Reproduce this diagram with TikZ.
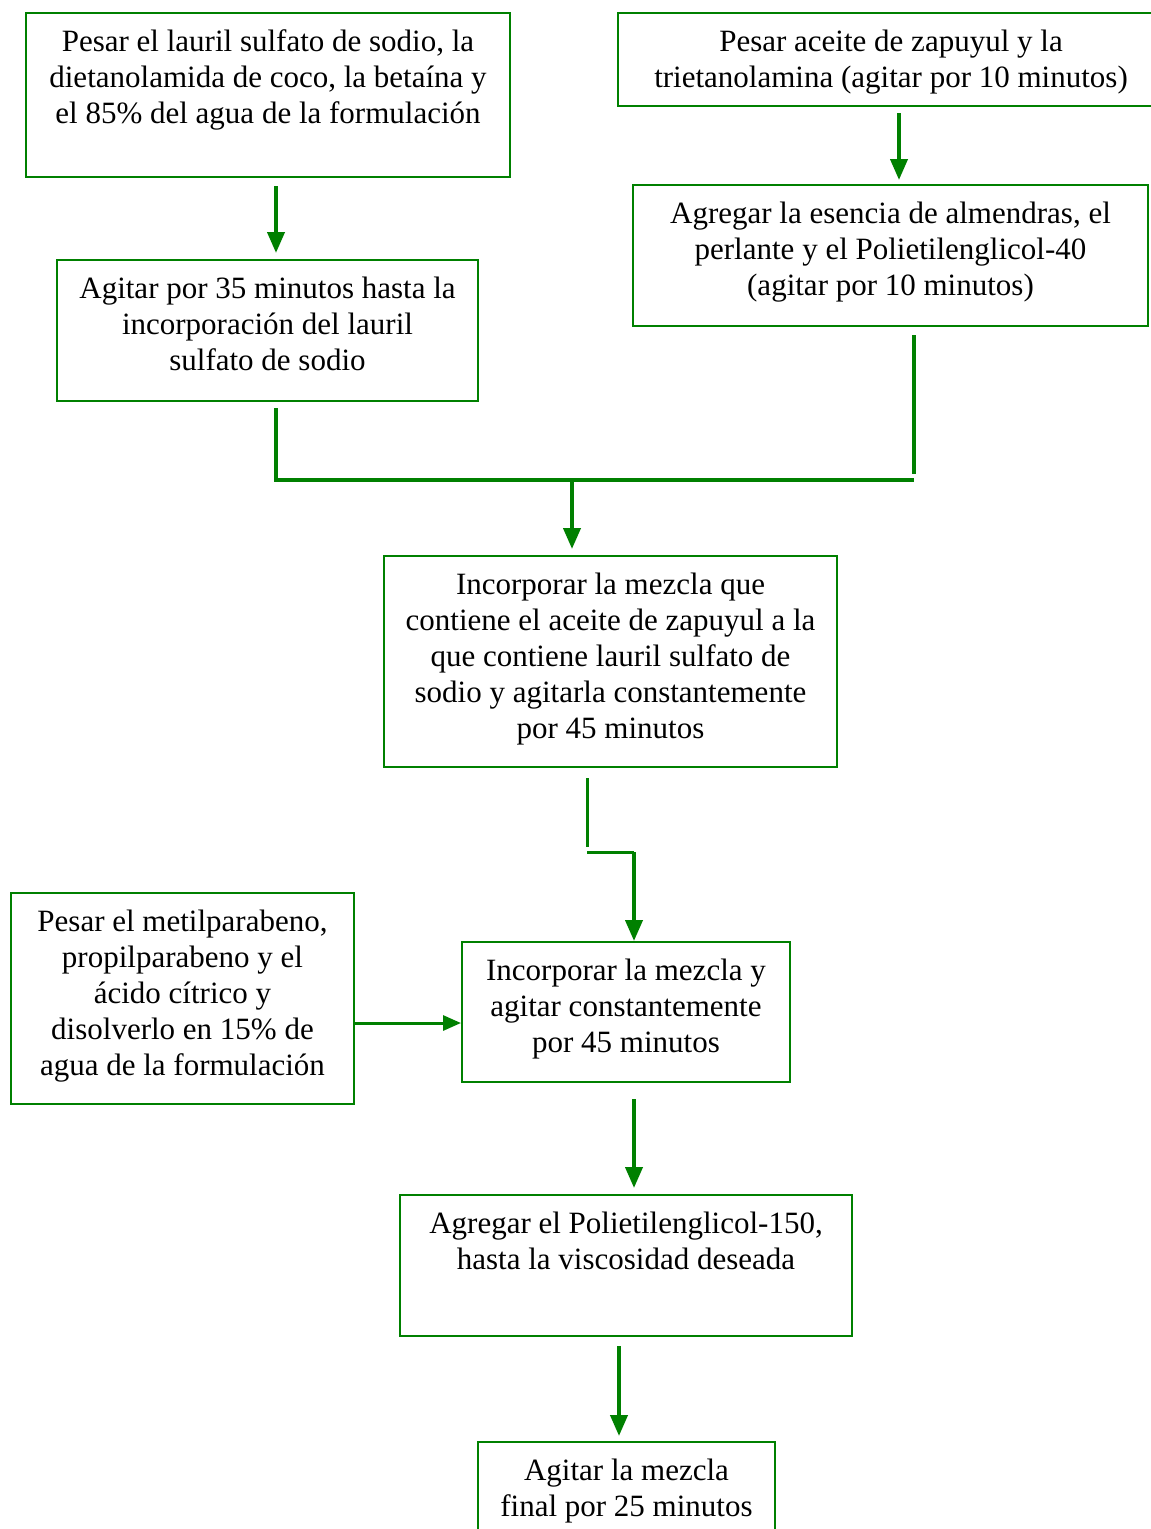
\documentclass[tikz,border=0pt]{standalone}
\usepackage{fontspec}
\setmainfont{Liberation Serif}
\usetikzlibrary{arrows.meta,calc}
\definecolor{dgreen}{RGB}{0,128,0}
\begin{document}
\begin{tikzpicture}[x=1pt,y=-1pt,
  box/.style={draw=dgreen, line width=2pt, anchor=north west, inner sep=0pt},
  txt/.style={font=\fontsize{31}{36}\selectfont, align=center, inner sep=0pt, anchor=north},
  flow/.style={draw=dgreen, line width=4pt},
  thinflow/.style={draw=dgreen, line width=3pt},
  arr/.style={flow, -{Triangle[width=17pt,length=21pt]}},
  thinarr/.style={thinflow, -{Triangle[width=15pt,length=18pt]}}]
\useasboundingbox (0,0) rectangle (1151,1529);
\clip (0,0) rectangle (1151,1529);

% process boxes
\node[box, minimum width=484pt, minimum height=164pt] (A) at (25,12) {};
\node[box, minimum width=546pt, minimum height=93pt]  (B) at (617,12) {};
\node[box, minimum width=421pt, minimum height=141pt] (C) at (56,259) {};
\node[box, minimum width=515pt, minimum height=141pt] (D) at (632,184) {};
\node[box, minimum width=453pt, minimum height=211pt] (E) at (383,555) {};
\node[box, minimum width=343pt, minimum height=211pt] (F) at (10,892) {};
\node[box, minimum width=328pt, minimum height=140pt] (G) at (461,941) {};
\node[box, minimum width=452pt, minimum height=141pt] (H) at (399,1194) {};
\node[box, minimum width=297pt, minimum height=150pt] (I) at (477,1441) {};

% texts
\node[txt] (tA) at ([yshift=-14pt]A.north) {\strut Pesar el lauril sulfato de sodio, la\\dietanolamida de coco, la betaína y\\el 85\% del agua de la formulación};
\node[txt] (tB) at ([yshift=-14pt]B.north) {\strut Pesar aceite de zapuyul y la\\trietanolamina (agitar por 10 minutos)};
\node[txt] (tC) at ([yshift=-14pt]C.north) {\strut Agitar por 35 minutos hasta la\\incorporación del lauril\\sulfato de sodio};
\node[txt] (tD) at ([yshift=-14pt]D.north) {\strut Agregar la esencia de almendras, el\\perlante y el Polietilenglicol-40\\(agitar por 10 minutos)};
\node[txt] (tE) at ([yshift=-14pt]E.north) {\strut Incorporar la mezcla que\\contiene el aceite de zapuyul a la\\que contiene lauril sulfato de\\sodio y agitarla constantemente\\por 45 minutos};
\node[txt] (tF) at ([yshift=-14pt]F.north) {\strut Pesar el metilparabeno,\\propilparabeno y el\\ácido cítrico y\\disolverlo en 15\% de\\agua de la formulación};
\node[txt] (tG) at ([yshift=-14pt]G.north) {\strut Incorporar la mezcla y\\agitar constantemente\\por 45 minutos};
\node[txt] (tH) at ([yshift=-14pt]H.north) {\strut Agregar el Polietilenglicol-150,\\hasta la viscosidad deseada};
\node[txt] (tI) at ([yshift=-14pt]I.north) {\strut Agitar la mezcla\\final por 25 minutos};

% connectors
\draw[arr] ([shift={(8,8)}]A.south) -- ([shift={(8.5,-6)}]C.north);
\draw[arr] ([shift={(8,6)}]B.south) -- ([shift={(8.5,-4)}]D.north);

\coordinate (J) at ([shift={(-38.5,-75)}]E.north);
\draw[flow] ([shift={(8.5,6)}]C.south) |- ([xshift=23.5pt]D.south |- J);
\draw[flow] ([shift={(23.5,8)}]D.south) -- ([shift={(23.5,147)}]D.south);
\draw[arr] (J) -- ([shift={(-38.5,-6)}]E.north);

\coordinate (K) at ([shift={(-23.5,84)}]E.south);
\coordinate (L) at ([xshift=8pt]G.north |- K);
\draw[thinflow] ([shift={(-23.5,10)}]E.south) -- ([shift={(-23.5,79)}]E.south);
\draw[thinflow] (K) -- (L);
\draw[arr] (L) -- ([xshift=8pt]G.north);

\draw[thinarr] ([yshift=-24.5pt]F.east) -- ([yshift=-11pt]G.west);
\draw[arr] ([shift={(8,16)}]G.south) -- ([shift={(8,-6)}]H.north);
\draw[arr] ([shift={(-7,9)}]H.south) -- ([shift={(-7.5,-5)}]I.north);
\end{tikzpicture}
\end{document}
